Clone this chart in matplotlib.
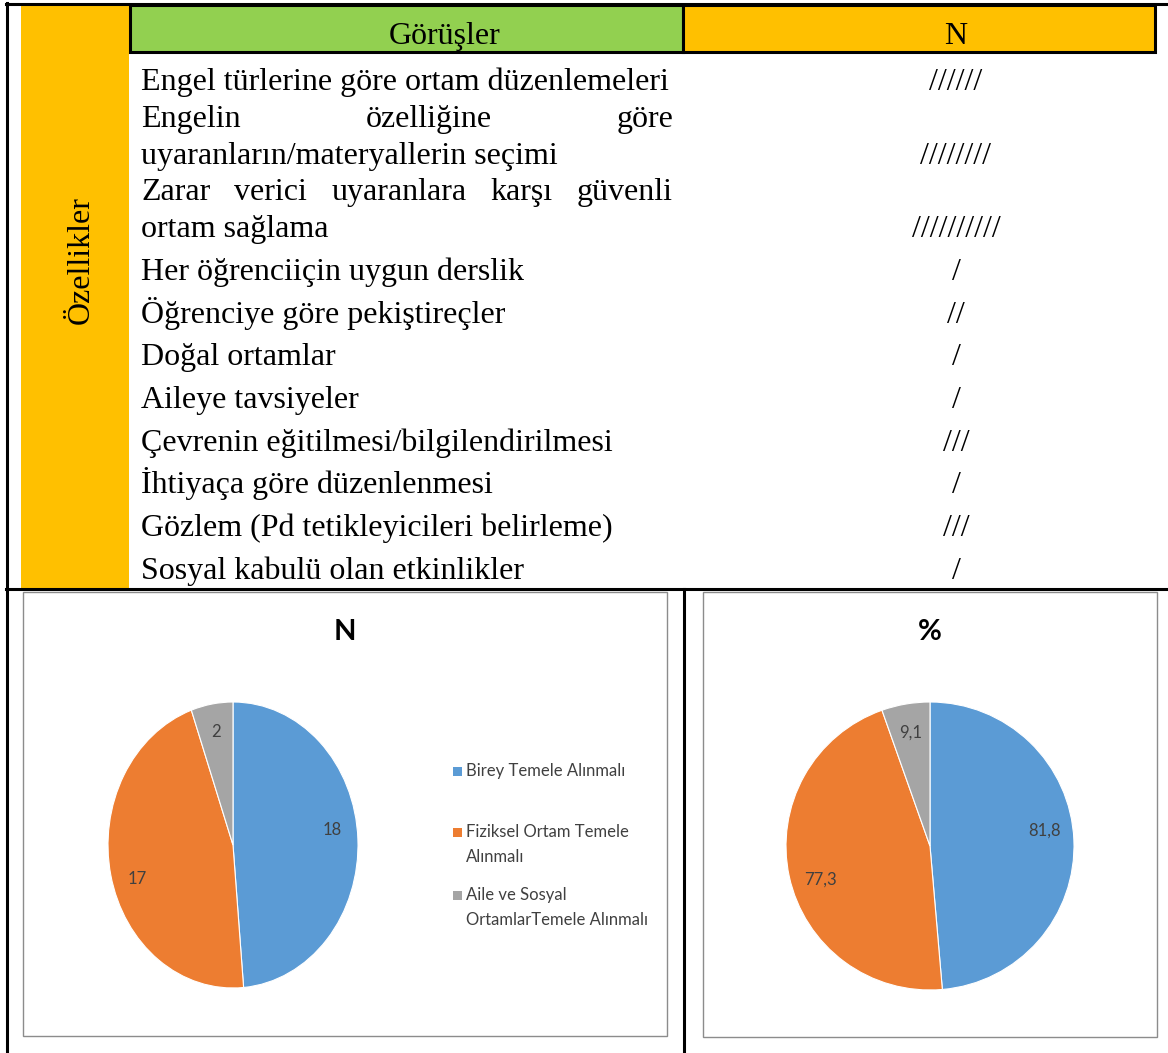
import numpy as np
import matplotlib.pyplot as plt
from matplotlib.patches import Rectangle

W, H = 1168, 1053

header_left = "Görüşler"
header_right = "N"
side_label = "Özellikler"

row_lines = [
    ["Engel türlerine göre ortam düzenlemeleri"],
    ["Engelin özelliğine göre", "uyaranların/materyallerin seçimi"],
    ["Zarar verici uyaranlara karşı güvenli", "ortam sağlama"],
    ["Her öğrenciiçin uygun derslik"],
    ["Öğrenciye göre pekiştireçler"],
    ["Doğal ortamlar"],
    ["Aileye tavsiyeler"],
    ["Çevrenin eğitilmesi/bilgilendirilmesi"],
    ["İhtiyaça göre düzenlenmesi"],
    ["Gözlem (Pd tetikleyicileri belirleme)"],
    ["Sosyal kabulü olan etkinlikler"],
]
row_counts = [6, 8, 10, 1, 2, 1, 1, 3, 1, 3, 1]

categories = ["Birey Temele Alınmalı",
              "Fiziksel Ortam Temele\nAlınmalı",
              "Aile ve Sosyal\nOrtamlarTemele Alınmalı"]
n_values = [18, 17, 2]
n_labels = ["18", "17", "2"]
pct_values = [81.8, 77.3, 9.1]
pct_labels = ["81,8", "77,3", "9,1"]
colors = ["#5B9BD5", "#ED7D31", "#A5A5A5"]

serif = "Liberation Serif"
sans = "Lato"
fs = 23

fig = plt.figure(figsize=(W / 100, H / 100), dpi=100)
bg = fig.add_axes([0, 0, 1, 1])
bg.set_xlim(0, W)
bg.set_ylim(H, 0)
bg.axis("off")

# table frame
bg.add_patch(Rectangle((21, 5), 108, 583, facecolor="#FFC000", edgecolor="none"))
bg.add_patch(Rectangle((130, 5), 553, 47, facecolor="#92D050", edgecolor="black", lw=2.2))
bg.add_patch(Rectangle((683, 5), 472, 47, facecolor="#FFC000", edgecolor="black", lw=2.2))
bg.plot([6, W], [4, 4], color="black", lw=2.2)
bg.plot([7, 7], [3, H], color="black", lw=2.2)
bg.plot([6, W], [589, 589], color="black", lw=2.2)
bg.plot([684, 684], [589, H], color="black", lw=2.2)

bg.text(445, 44, header_left, family=serif, fontsize=fs, ha="center", va="baseline")
bg.text(956, 44, header_right, family=serif, fontsize=fs, ha="center", va="baseline")
bg.text(81, 260, side_label, family=serif, fontsize=fs, rotation=90, ha="center", va="center")

fig.canvas.draw()
renderer = fig.canvas.get_renderer()


def justify(words, x0, x1, y):
    texts = [bg.text(x0, y, w, family=serif, fontsize=fs, va="baseline") for w in words]
    widths = [t.get_window_extent(renderer).width for t in texts]
    gap = (x1 - x0 - sum(widths)) / (len(words) - 1)
    x = x0
    for t, w in zip(texts, widths):
        t.set_x(x)
        x += w + gap


y = 90
for i, (lines, cnt) in enumerate(zip(row_lines, row_counts)):
    for j, line in enumerate(lines):
        if j < len(lines) - 1:
            justify(line.split(), 141, 673, y)
        else:
            bg.text(141, y, line, family=serif, fontsize=fs, va="baseline")
        last_y = y
        y += 36.8
    bg.text(956, last_y, "/" * cnt, family=serif, fontsize=fs, ha="center", va="baseline")
    if i >= 2:
        y += 5.9

# chart boxes
bg.add_patch(Rectangle((23, 592), 644, 444, facecolor="none", edgecolor="#8c8c8c", lw=1))
bg.add_patch(Rectangle((703, 592), 454, 445, facecolor="none", edgecolor="#8c8c8c", lw=1))
bg.text(345, 632, "N", family=sans, fontsize=21, fontweight="bold", ha="center", va="center")
bg.text(930, 632, "%", family=sans, fontsize=21, fontweight="bold", ha="center", va="center")


def pie_axes(cx, cy, rx, ry, values, labels):
    k = 1.3
    ax = fig.add_axes([(cx - rx * k) / W, 1 - (cy + ry * k) / H, 2 * rx * k / W, 2 * ry * k / H])
    it = iter(labels)
    wedges, _, autos = ax.pie(values, colors=colors, startangle=90, counterclock=False,
                              autopct=lambda p: next(it), pctdistance=0.8,
                              wedgeprops=dict(edgecolor="white", linewidth=0.8),
                              textprops=dict(family=sans, fontsize=12, color="#404040"))
    # nudge labels of the big slices a little counter-clockwise, like Excel does
    for w, t in zip(wedges, autos):
        span = abs(w.theta2 - w.theta1)
        mid = np.deg2rad((w.theta1 + w.theta2) / 2 + (5 if span > 90 else 0))
        t.set_position((0.8 * np.cos(mid), 0.8 * np.sin(mid)))
    ax.set_aspect("auto")
    ax.set_xlim(-k, k)
    ax.set_ylim(-k, k)
    return wedges


wedges = pie_axes(233, 845, 125, 143, n_values, n_labels)
pie_axes(930, 846, 144, 144, pct_values, pct_labels)

# legend
leg_y = [771, 832, 895]
for c, lab, ly in zip(colors, categories, leg_y):
    bg.add_patch(Rectangle((453, ly - 4.5), 9, 9, facecolor=c, edgecolor="none"))
    for m, part in enumerate(lab.split("\n")):
        bg.text(466, ly + m * 25, part, family=sans, fontsize=12, color="#404040", va="center")

fig.savefig("out.png", dpi=100)
